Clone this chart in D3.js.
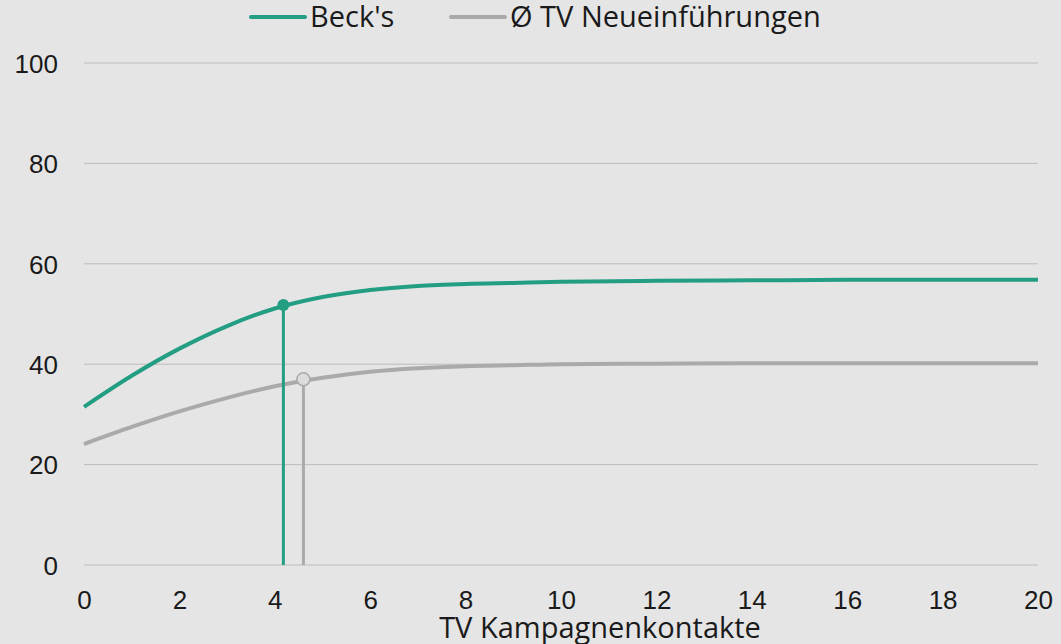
<!DOCTYPE html>
<meta charset="utf-8">
<style>
body { margin: 0; background: #e5e5e5; }
svg { display: block; font-family: "Open Sans", sans-serif; }
.grid line { stroke: #bcbcbc; stroke-width: 1px; }
.tick text { fill: #1a1a1a; font-size: 26px; }
.line { fill: none; stroke-width: 4px; }
</style>
<script src="https://cdn.jsdelivr.net/npm/d3@7"></script>
<body>
<script>

var width = 1061,
    height = 644;

// data
var contacts = [0, 1, 2, 3, 4, 5, 6, 7, 8, 9, 10, 12, 14, 16, 18, 20];
var becks = [31.5, 37.7, 43.1, 47.6, 51.1, 53.4, 54.8, 55.6, 56.0, 56.2, 56.4, 56.6, 56.7, 56.8, 56.8, 56.8];
var tvAvg = [24.1, 27.5, 30.6, 33.3, 35.6, 37.3, 38.5, 39.2, 39.6, 39.8, 40.0, 40.1, 40.2, 40.2, 40.2, 40.2];
var seriesNames = ["Beck's", "Ø TV Neueinführungen"];
var seriesColors = ["#239e83", "#aaaaaa"];
var markerX = [4.18, 4.6];
var markerY = [51.8, 37.0];
var yTicks = [0, 20, 40, 60, 80, 100];
var xTicks = [0, 2, 4, 6, 8, 10, 12, 14, 16, 18, 20];
var xTitle = "TV Kampagnenkontakte";

var svg = d3.select("body").append("svg")
    .attr("width", width)
    .attr("height", height);

var x = d3.scaleLinear().domain([0, 20]).range([84, 1038]);
var y = d3.scaleLinear().domain([0, 100]).range([565, 63]);

// gridlines
svg.append("g")
    .attr("class", "grid")
  .selectAll("line")
  .data(yTicks)
  .enter().append("line")
    .attr("x1", x(0))
    .attr("x2", x(20))
    .attr("y1", function(d) { return y(d); })
    .attr("y2", function(d) { return y(d); });

// y axis labels
var yAxis = svg.append("g")
    .attr("transform", "translate(" + (x(0) - 26) + ",0)")
    .call(d3.axisLeft(y).tickValues(yTicks).tickSize(0).tickPadding(0));
yAxis.select(".domain").remove();
yAxis.selectAll("text").attr("dy", "0.36em");

// x axis labels
var xAxis = svg.append("g")
    .attr("transform", "translate(0," + (y(0) + 20) + ")")
    .call(d3.axisBottom(x).tickValues(xTicks).tickSize(0).tickPadding(0));
xAxis.select(".domain").remove();
xAxis.selectAll("text").attr("dy", "0.36em").attr("y", 15);

svg.append("text")
    .attr("x", 600)
    .attr("y", 638)
    .attr("text-anchor", "middle")
    .attr("fill", "#1a1a1a")
    .style("font-size", "29px")
    .text(xTitle);

var line = d3.line()
    .x(function(d, i) { return x(contacts[i]); })
    .y(function(d) { return y(d); })
    .curve(d3.curveMonotoneX);

var seriesData = [becks, tvAvg];

// draw grey first so teal sits on top
[1, 0].forEach(function(s) {
  svg.append("path")
      .datum(seriesData[s])
      .attr("class", "line")
      .attr("stroke", seriesColors[s])
      .attr("d", line);

  svg.append("line")
      .attr("x1", x(markerX[s]))
      .attr("x2", x(markerX[s]))
      .attr("y1", y(markerY[s]))
      .attr("y2", y(0))
      .attr("stroke", seriesColors[s])
      .attr("stroke-width", 3);

  svg.append("circle")
      .attr("cx", x(markerX[s]))
      .attr("cy", y(markerY[s]))
      .attr("r", s == 0 ? 6 : 6.5)
      .attr("fill", s == 0 ? seriesColors[0] : "#dcdcdc")
      .attr("stroke", seriesColors[s])
      .attr("stroke-width", s == 0 ? 0 : 1.5);
});

// legend
var legendX = [251, 451];
var legend = svg.selectAll(".legend")
    .data(seriesNames)
  .enter().append("g")
    .attr("class", "legend")
    .attr("transform", function(d, i) { return "translate(" + legendX[i] + ",17)"; });

legend.append("line")
    .attr("x1", 0)
    .attr("x2", 54)
    .attr("stroke", function(d, i) { return seriesColors[i]; })
    .attr("stroke-width", 4)
    .attr("stroke-linecap", "round");

legend.append("text")
    .attr("x", 59)
    .attr("dy", "0.36em")
    .attr("fill", "#1a1a1a")
    .style("font-size", "29px")
    .text(function(d) { return d; });

</script>
</body>
